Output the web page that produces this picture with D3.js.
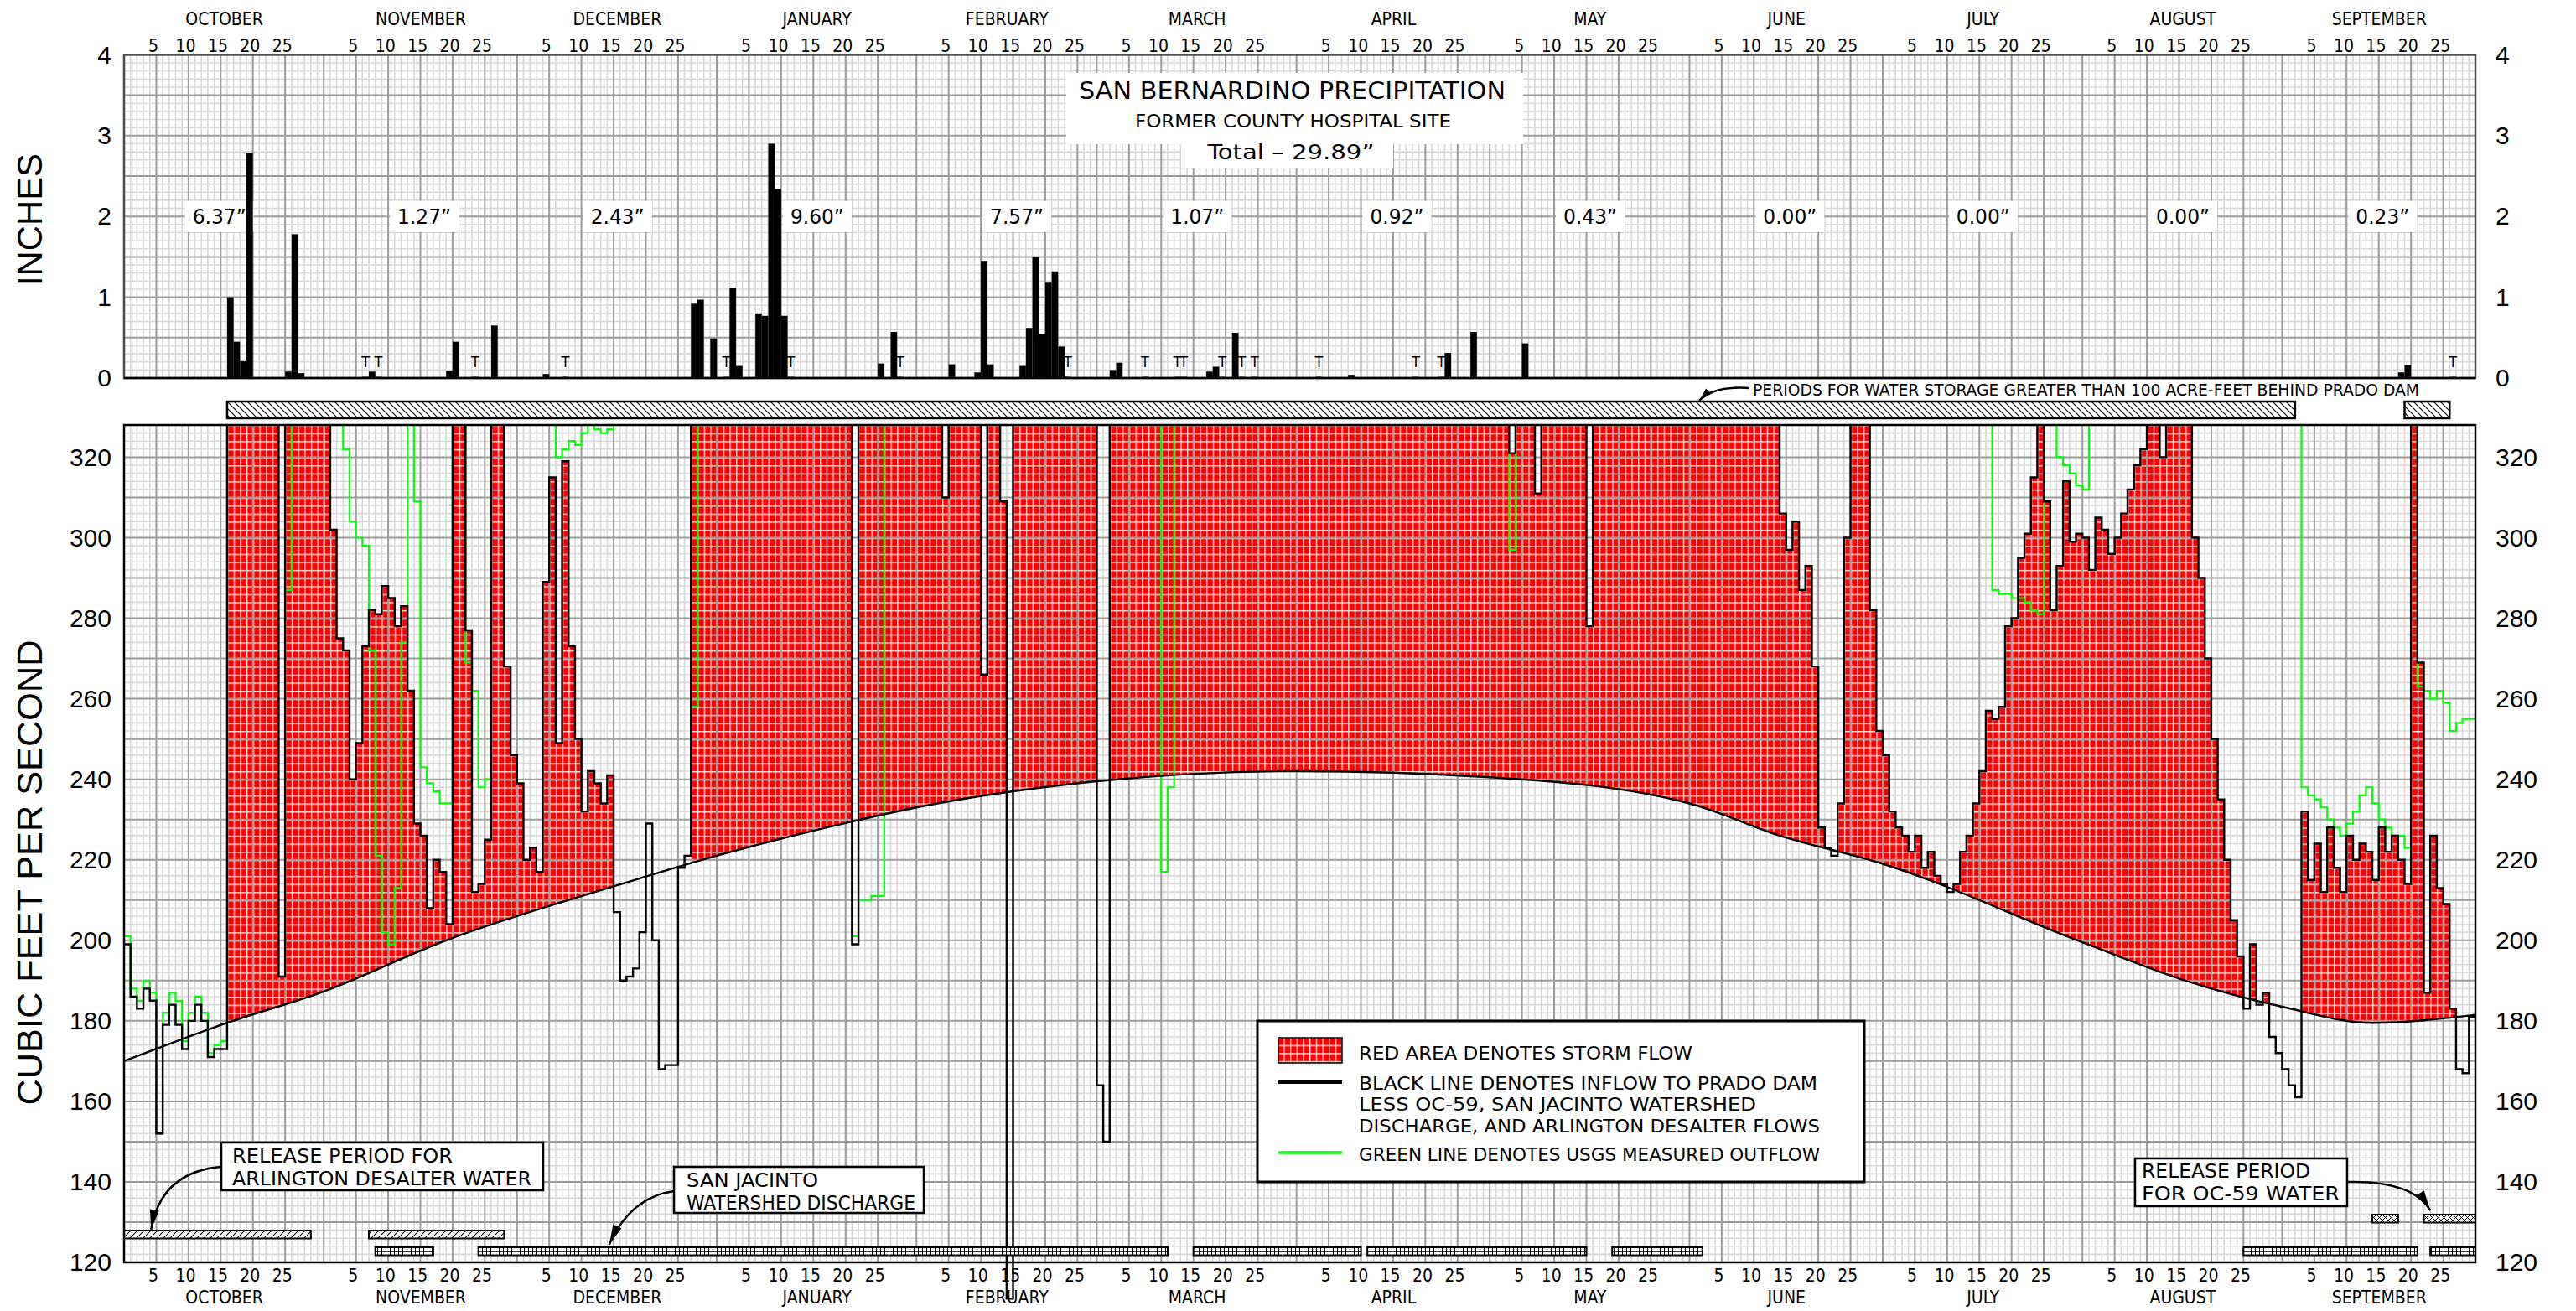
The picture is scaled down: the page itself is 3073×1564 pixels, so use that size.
<!DOCTYPE html>
<html>
<head>
<meta charset="utf-8">
<title>San Bernardino Precipitation and Prado Dam Storm Flow</title>
<script src="https://cdn.jsdelivr.net/npm/d3@7/dist/d3.min.js"></script>
<style>
  html, body { margin: 0; padding: 0; background: #fff; }
  svg { display: block; }
</style>
</head>
<body>
<svg id="chart" width="3073" height="1564"></svg>
<script>
const NARROW = '"Liberation Sans Narrow", "Arial Narrow", "DejaVu Sans Condensed", sans-serif';
const SANS = '"Liberation Sans", Arial, Helvetica, sans-serif';
const A = 400; // flow above the top of the cfs scale

// ---- calendar of the water year ----
const months = ["OCTOBER","NOVEMBER","DECEMBER","JANUARY","FEBRUARY","MARCH",
                "APRIL","MAY","JUNE","JULY","AUGUST","SEPTEMBER"];
const monthDays = [31,30,31,31,28,31,30,31,30,31,31,30];
const dayTickLabels = [5,10,15,20,25];
// monthly totals are centred this many days after the first of the month
const totalLabelOffset = [14.8,15.6,15.6,15.6,15.6,15.6,15.6,15.6,15.6,15.6,15.6,15.6];

// ---- daily precipitation [month index, day, inches] ----
const rainOct = [[0,17,1.00],[0,18,0.45],[0,19,0.21],[0,20,2.79],[0,26,0.08],[0,27,1.78],[0,28,0.06]];
const rainNov = [[1,8,0.08],[1,20,0.09],[1,21,0.45],[1,27,0.65]];
const rainDec = [[2,5,0.05],[2,28,0.92],[2,29,0.97],[2,31,0.49]];
const rainJan = [[3,3,1.12],[3,4,0.15],[3,7,0.80],[3,8,0.77],[3,9,2.90],[3,10,2.34],[3,11,0.77],[3,26,0.18],[3,28,0.57]];
const rainFeb = [[4,6,0.17],[4,10,0.07],[4,11,1.45],[4,12,0.17],[4,17,0.15],[4,18,0.62],[4,19,1.50],[4,20,0.55],[4,21,1.18],[4,22,1.32],[4,23,0.39]];
const rainMar = [[5,3,0.10],[5,4,0.19],[5,18,0.08],[5,19,0.14],[5,22,0.56]];
const rainApr = [[6,9,0.04],[6,24,0.31],[6,28,0.57]];
const rainMay = [[7,6,0.43]];
const rainSep = [[11,19,0.07],[11,20,0.16]];
// trace days [month index, day]
const traceDays = [[1,7],[1,9],[1,24],[2,8],[3,2],[3,12],[3,29],[4,24],[5,8],[5,13],[5,14],
                   [5,20],[5,23],[5,25],[6,4],[6,19],[6,23],[11,27]];

// ---- daily inflow to Prado Dam less OC-59, San Jacinto and Arlington flows (cfs) ----
const inflowOct = [199,186,183,188,185,152,179,184,179,173,180,184,180,171,173,173,A,A,A,A,A,A,A,A,191,A,A,A,A,A,A];
const inflowNov = [A,302,275,272,240,249,273,282,281,288,285,278,283,262,229,226,208,220,217,204,A,A,277,212,214,225,A,A,268,246];
const inflowDec = [239,220,223,217,289,315,249,319,273,250,232,242,239,234,241,207,190,191,193,202,229,200,168,169,169,218,221,A,A,A,A];
const inflowJan = [A,A,A,A,A,A,A,A,A,A,A,A,A,A,A,A,A,A,A,A,A,199,A,A,A,A,A,A,A,A,A];
const inflowFeb = [A,A,A,A,310,A,A,A,A,A,266,A,A,309,111,A,A,A,A,A,A,A,A,A,A,A,A,A];
const inflowMar = [164,150,A,A,A,A,A,A,A,A,A,A,A,A,A,A,A,A,A,A,A,A,A,A,A,A,A,A,A,A,A];
const inflowApr = [A,A,A,A,A,A,A,A,A,A,A,A,A,A,A,A,A,A,A,A,A,A,A,A,A,A,A,A,A,A];
const inflowMay = [A,A,A,321,A,A,A,311,A,A,A,A,A,A,A,278,A,A,A,A,A,A,A,A,A,A,A,A,A,A,A];
const inflowJun = [A,A,A,A,A,A,A,A,A,A,A,A,A,A,306,297,304,287,293,268,228,223,221,234,300,A,A,A,282,252];
const inflowJul = [246,232,228,226,222,226,218,222,216,214,212,214,222,226,234,242,257,255,258,278,280,295,301,315,A,309,282,293,314,299,301];
const inflowAug = [300,292,305,302,296,300,306,312,318,322,A,A,320,A,A,A,A,300,290,270,250,235,220,205,196,183,199,184,187,176,172];
const inflowSep = [168,164,161,232,215,224,212,228,218,212,226,220,224,222,215,228,222,226,220,214,A,269,187,226,213,209,183,168,167,181];

// ---- daily USGS measured outflow (cfs) ----
const outflowOct = [201,188,185,190,187,152,182,187,185,175,182,186,182,172,174,175,A,A,A,A,A,A,A,A,A,287,A,A,A,A,A];
const outflowNov = [A,A,A,322,304,300,298,272,221,202,199,213,274,A,309,243,239,237,234,234,A,A,269,262,238,240,A,A,A,A];
const outflowDec = [A,A,A,A,A,A,320,322,324,323,326,A,327,326,327,A,A,A,A,A,A,A,A,A,A,A,A,258,A,A,A];
const outflowJan = [A,A,A,A,A,A,A,A,A,A,A,A,A,A,A,A,A,A,A,A,A,201,210,210,211,211,A,A,A,A,A];
const outflowFeb = [A,A,A,A,A,A,A,A,A,A,A,A,A,A,A,A,A,A,A,A,A,A,A,A,A,A,A,A];
const outflowMar = [A,A,A,A,A,A,A,A,A,A,217,238,A,A,A,A,A,A,A,A,A,A,A,A,A,A,A,A,A,A,A];
const outflowApr = [A,A,A,A,A,A,A,A,A,A,A,A,A,A,A,A,A,A,A,A,A,A,A,A,A,A,A,A,A,A];
const outflowMay = [A,A,A,297,A,A,A,A,A,A,A,A,A,A,A,A,A,A,A,A,A,A,A,A,A,A,A,A,A,A,A];
const outflowJun = [A,A,A,A,A,A,A,A,A,A,A,A,A,A,A,A,A,A,A,A,A,A,A,A,A,A,A,A,A,A];
const outflowJul = [A,A,A,A,A,A,A,A,A,A,A,A,A,A,A,A,A,287,286,286,285,285,284,282,281,A,A,320,318,316,313];
const outflowAug = [312,A,A,A,A,A,A,A,A,A,A,A,A,A,A,A,A,A,A,A,A,A,A,A,A,A,A,A,A,A,A];
const outflowSep = [A,A,A,238,236,235,233,230,228,226,229,232,236,238,234,230,228,226,226,223,A,263,262,260,262,259,252,254,255,255];

// ---- base flow curve [day of water year, cfs] ----
const baseFlow = [[0,170],[16,179.5],[31,187.3],[50,200],[76,213.4],[92,221],[113,229.5],[123,233],
                  [151,239.5],[182,242],[212,240.5],[243,234],[257,226],[273,219],[304,199.5],
                  [320,190],[335,183.5],[349,179.5],[365,181.5]];

// ---- periods (first and last date, [month index, day]) ----
const stormPeriods   = [[[0,17],[2,15]], [[2,28],[11,30]]];
const storagePeriods = [[[0,17],[11,2]], [[11,20],[11,26]]];
const arlingtonRelease = [[[0,1],[0,29]], [[1,8],[1,28]]];
const sanJacintoDischarge = [[[1,9],[1,17]], [[1,25],[5,11]], [[5,16],[6,10]], [[6,12],[7,15]],
                             [[7,20],[8,2]], [[10,26],[11,21]], [[11,24],[11,30]]];
const oc59Release = [[[11,15],[11,18]], [[11,23],[11,30]]];

// ================= layout =================
const svg = d3.select("#chart");
const W = 3073, H = 1564;
const X0 = 148, X1 = 2953;

const monthStart = [];
monthDays.reduce((acc, d) => { monthStart.push(acc); return acc + d; }, 0);
const dayIdx = (m, d) => monthStart[m] + d - 1;

const x  = d3.scaleLinear().domain([0, 365]).range([X0, X1]);
const yP = d3.scaleLinear().domain([0, 4]).range([451, 65.4]);
const yQ = d3.scaleLinear().domain([120, 328]).range([1506, 507]);

const inflow  = [].concat(inflowOct, inflowNov, inflowDec, inflowJan, inflowFeb, inflowMar,
                          inflowApr, inflowMay, inflowJun, inflowJul, inflowAug, inflowSep);
const outflow = [].concat(outflowOct, outflowNov, outflowDec, outflowJan, outflowFeb, outflowMar,
                          outflowApr, outflowMay, outflowJun, outflowJul, outflowAug, outflowSep);
const rain = [].concat(rainOct, rainNov, rainDec, rainJan, rainFeb, rainMar, rainApr, rainMay, rainSep);

svg.append("rect").attr("width", W).attr("height", H).attr("fill", "#fff");
const defs = svg.append("defs");

// ---- fill patterns ----
const dayW = x(1) - x(0);
const cellH = yQ(120) - yQ(122);
const storm = defs.append("pattern").attr("id", "storm").attr("patternUnits", "userSpaceOnUse")
  .attr("x", X0).attr("y", yQ(328)).attr("width", dayW).attr("height", cellH);
storm.append("rect").attr("width", dayW).attr("height", cellH).attr("fill", "#ff0000");
storm.append("path").attr("d", `M0,0.7H${dayW}M0.7,0V${cellH}`)
  .attr("stroke", "#ffd9d9").attr("stroke-width", 1.4);

function hatch(id, w, h, d, sw) {
  const p = defs.append("pattern").attr("id", id).attr("patternUnits", "userSpaceOnUse")
    .attr("width", w).attr("height", h);
  p.append("rect").attr("width", w).attr("height", h).attr("fill", "#fff");
  p.append("path").attr("d", d).attr("stroke", "#000").attr("stroke-width", sw).attr("fill", "none");
}
hatch("hatchBack", 8, 8, "M-2,-2L10,10M-2,6L2,10M6,-2L10,2", 1.1);
hatch("hatchFwd", 8, 8, "M-2,10L10,-2M-2,2L2,-2M6,10L10,6", 1.1);
hatch("gridFill", 5, 4.8, "M0.5,0V4.8M0,0.5H5", 1);
hatch("crossFill", 7, 7, "M0,0L7,7M7,0L0,7", 1);

defs.append("clipPath").attr("id", "plotClip").append("rect")
  .attr("x", X0).attr("y", yQ(328)).attr("width", X1 - X0).attr("height", H - yQ(328));
defs.append("clipPath").attr("id", "aboveBase").append("path")
  .attr("d", d3.area().curve(d3.curveMonotoneX).x(d => x(d[0])).y0(d => yQ(d[1])).y1(0)(baseFlow));

// ---- grid helpers ----
const majorDays = new Set();
monthStart.forEach(s => [0,5,10,15,20,25].forEach(k => majorDays.add(s + k)));
majorDays.add(365);

function minorGrid(g, y, vals) {
  const [yb, yt] = y.range();
  const gg = g.append("g").attr("stroke", "#d9d9d9").attr("stroke-width", 1.6);
  d3.range(1, 365).filter(i => !majorDays.has(i)).forEach(i =>
    gg.append("line").attr("x1", x(i)).attr("x2", x(i)).attr("y1", yt).attr("y2", yb));
  vals.forEach(v => gg.append("line").attr("x1", X0).attr("x2", X1).attr("y1", y(v)).attr("y2", y(v)));
}
function majorGrid(g, y, vals) {
  const [yb, yt] = y.range();
  const gg = g.append("g").attr("stroke", "#9c9c9c").attr("stroke-width", 2);
  [...majorDays].filter(i => i > 0 && i < 365).forEach(i =>
    gg.append("line").attr("x1", x(i)).attr("x2", x(i)).attr("y1", yt).attr("y2", yb));
  vals.forEach(v => gg.append("line").attr("x1", X0).attr("x2", X1).attr("y1", y(v)).attr("y2", y(v)));
}

// ================= precipitation panel =================
const gP = svg.append("g");
minorGrid(gP, yP, d3.range(0.1, 4, 0.1).filter(v => Math.abs(v * 2 - Math.round(v * 2)) > 0.01));
majorGrid(gP, yP, [0.5,1,1.5,2,2.5,3,3.5]);

// title block
gP.append("path").attr("fill", "#fff")
  .attr("d", "M1272,87H1817V172H1662V201H1409V172H1272Z");
const title = gP.append("g").attr("font-family", NARROW).attr("text-anchor", "middle").attr("fill", "#000");
title.append("text").attr("x", 1541.5).attr("y", 118).attr("font-size", 28)
  .attr("textLength", 509).attr("lengthAdjust", "spacingAndGlyphs").text("SAN BERNARDINO PRECIPITATION");
title.append("text").attr("x", 1542.5).attr("y", 151.5).attr("font-size", 22)
  .attr("textLength", 377).attr("lengthAdjust", "spacingAndGlyphs").text("FORMER COUNTY HOSPITAL SITE");
const yearTotal = d3.sum(rain, d => d[2]);
title.append("text").attr("x", 1540).attr("y", 189.5).attr("font-size", 25)
  .attr("textLength", 199).attr("lengthAdjust", "spacingAndGlyphs")
  .text(`Total \u2013 ${yearTotal.toFixed(2)}\u201D`);

// monthly totals
months.forEach((m, mi) => {
  const tot = d3.sum(rain.filter(d => d[0] === mi), d => d[2]);
  const cx = x(monthStart[mi] + totalLabelOffset[mi]);
  gP.append("rect").attr("x", cx - 41).attr("y", yP(2) - 18.5).attr("width", 82).attr("height", 37).attr("fill", "#fff");
  gP.append("text").attr("x", cx).attr("y", yP(2)).attr("dy", "0.36em").attr("text-anchor", "middle")
    .attr("font-family", NARROW).attr("font-size", 24)
    .attr("textLength", 64).attr("lengthAdjust", "spacingAndGlyphs").text(`${tot.toFixed(2)}\u201D`);
});

// daily bars
gP.append("g").selectAll("rect").data(rain).join("rect")
  .attr("x", d => x(dayIdx(d[0], d[1])))
  .attr("width", dayW)
  .attr("y", d => yP(d[2]))
  .attr("height", d => yP(0) - yP(d[2]))
  .attr("fill", "#000");

// trace markers
const gT = gP.append("g");
traceDays.forEach(([m, d]) => {
  const i = dayIdx(m, d);
  gT.append("rect").attr("x", x(i)).attr("width", dayW).attr("y", yP(0) - 1.5).attr("height", 1.5).attr("fill", "#000");
  gT.append("text").attr("x", x(i + 0.5)).attr("y", yP(0.13)).attr("text-anchor", "middle")
    .attr("font-family", NARROW).attr("font-size", 18).text("T");
});

// frame
gP.append("rect").attr("x", X0).attr("y", yP(4)).attr("width", X1 - X0).attr("height", yP(0) - yP(4))
  .attr("fill", "none").attr("stroke", "#4a4a4a").attr("stroke-width", 2.5);
gP.append("line").attr("x1", X0).attr("x2", X1).attr("y1", yP(0)).attr("y2", yP(0))
  .attr("stroke", "#000").attr("stroke-width", 2.5);

// ================= storage bar =================
const gS = svg.append("g");
storagePeriods.forEach(([s, e]) => {
  const i0 = dayIdx(...s), i1 = dayIdx(...e) + 1;
  gS.append("rect").attr("x", x(i0)).attr("y", 479).attr("width", x(i1) - x(i0)).attr("height", 20)
    .attr("fill", "url(#hatchBack)").attr("stroke", "#000").attr("stroke-width", 2.5);
});
gS.append("text").attr("x", 2091).attr("y", 471.5).attr("font-family", NARROW).attr("font-size", 19)
  .attr("textLength", 795).attr("lengthAdjust", "spacingAndGlyphs")
  .text("PERIODS FOR WATER STORAGE GREATER THAN 100 ACRE-FEET BEHIND PRADO DAM");

function arrow(g, p0, c, p1, len, wid) {
  g.append("path").attr("d", `M${p0[0]},${p0[1]}Q${c[0]},${c[1]} ${p1[0]},${p1[1]}`)
    .attr("fill", "none").attr("stroke", "#000").attr("stroke-width", 2.5);
  const a = Math.atan2(p1[1] - c[1], p1[0] - c[0]);
  const bx = p1[0] - len * Math.cos(a), by = p1[1] - len * Math.sin(a);
  const nx = -Math.sin(a) * wid / 2, ny = Math.cos(a) * wid / 2;
  g.append("path").attr("d", `M${p1[0]},${p1[1]}L${bx + nx},${by + ny}L${bx - nx},${by - ny}Z`).attr("fill", "#000");
}
arrow(gS, [2087, 463], [2045, 460], [2027, 478], 16, 9);

// ================= flow panel =================
const gQ = svg.append("g");
const minorQ = d3.range(122, 328.5, 2).filter(v => v % 10 !== 0);
minorGrid(gQ, yQ, minorQ);

const stormSet = new Set();
stormPeriods.forEach(([s, e]) => { for (let i = dayIdx(...s); i <= dayIdx(...e); i++) stormSet.add(i); });
const steps = (arr, flag) => arr.flatMap((v, i) => [{ x: i, v, on: flag(i) }, { x: i + 1, v, on: flag(i) }]);

const plot = gQ.append("g").attr("clip-path", "url(#plotClip)");
// storm flow: between the inflow line and the base flow curve
plot.append("g").attr("clip-path", "url(#aboveBase)").append("path")
  .attr("d", d3.area().defined(d => d.on).x(d => x(d.x)).y0(yQ(120)).y1(d => yQ(d.v))(steps(inflow, i => stormSet.has(i))))
  .attr("fill", "url(#storm)");

majorGrid(gQ, yQ, d3.range(130, 321, 10));

const plotTop = gQ.append("g").attr("clip-path", "url(#plotClip)");
const stepLine = d3.line().x(d => x(d.x)).y(d => yQ(d.v));
plotTop.append("path").attr("d", stepLine(steps(outflow, () => true)))
  .attr("fill", "none").attr("stroke", "#00ff00").attr("stroke-width", 2.2);
plotTop.append("path").attr("d", stepLine(steps(inflow, () => true)))
  .attr("fill", "none").attr("stroke", "#000").attr("stroke-width", 2.4);
plotTop.append("path").attr("d", d3.line().curve(d3.curveMonotoneX).x(d => x(d[0])).y(d => yQ(d[1]))(baseFlow))
  .attr("fill", "none").attr("stroke", "#000").attr("stroke-width", 2.4);

// release / discharge period bars
function periodBars(periods, y, h, fill) {
  periods.forEach(([s, e]) => {
    const i0 = dayIdx(...s), i1 = dayIdx(...e) + 1;
    gQ.append("rect").attr("x", x(i0)).attr("y", y).attr("width", x(i1) - x(i0)).attr("height", h)
      .attr("fill", fill).attr("stroke", "#000").attr("stroke-width", 2);
  });
}
periodBars(oc59Release, 1449, 9.5, "url(#crossFill)");
periodBars(arlingtonRelease, 1468, 9.5, "url(#hatchFwd)");
periodBars(sanJacintoDischarge, 1488, 9.5, "url(#gridFill)");

// frame
gQ.append("rect").attr("x", X0).attr("y", yQ(328)).attr("width", X1 - X0).attr("height", yQ(120) - yQ(328))
  .attr("fill", "none").attr("stroke", "#000").attr("stroke-width", 2.5);

// ---- callouts ----
function callout(box, tx, lines) {
  const g = svg.append("g");
  g.append("rect").attr("x", box[0]).attr("y", box[1]).attr("width", box[2] - box[0]).attr("height", box[3] - box[1])
    .attr("fill", "#fff").attr("stroke", "#000").attr("stroke-width", 2.5);
  lines.forEach(([t, y, w]) => g.append("text").attr("x", tx).attr("y", y).attr("font-family", NARROW)
    .attr("font-size", 23).attr("textLength", w).attr("lengthAdjust", "spacingAndGlyphs").text(t));
  return g;
}
const cA = callout([264, 1363, 648, 1420], 277, [["RELEASE PERIOD FOR", 1387, 263], ["ARLINGTON DESALTER WATER", 1414, 357]]);
arrow(cA, [264, 1392], [192, 1398], [x(dayIdx(0, 5) + 0.2), 1467], 24, 11);
const cS = callout([804, 1392, 1102, 1447], 819, [["SAN JACINTO", 1416, 157], ["WATERSHED DISCHARGE", 1443, 273]]);
arrow(cS, [804, 1421], [752, 1428], [x(dayIdx(2, 15) + 0.3), 1485], 24, 11);
const cO = callout([2547, 1382, 2800, 1439], 2555, [["RELEASE PERIOD", 1405, 201], ["FOR OC-59 WATER", 1432, 236]]);
arrow(cO, [2800, 1410], [2878, 1408], [x(dayIdx(11, 24)), 1444], 24, 11);

// ---- legend ----
const gL = svg.append("g");
gL.append("rect").attr("x", 1500).attr("y", 1218).attr("width", 724).attr("height", 192)
  .attr("fill", "#fff").attr("stroke", "#000").attr("stroke-width", 3);
gL.append("rect").attr("x", 1525).attr("y", 1238).attr("width", 76).attr("height", 30)
  .attr("fill", "url(#storm)").attr("stroke", "#000").attr("stroke-width", 1.5);
gL.append("line").attr("x1", 1525).attr("x2", 1601).attr("y1", 1291).attr("y2", 1291)
  .attr("stroke", "#000").attr("stroke-width", 4);
gL.append("line").attr("x1", 1525).attr("x2", 1601).attr("y1", 1375).attr("y2", 1375)
  .attr("stroke", "#00ff00").attr("stroke-width", 3.5);
[["RED AREA DENOTES STORM FLOW", 1264, 398],
 ["BLACK LINE DENOTES INFLOW TO PRADO DAM", 1300, 547],
 ["LESS OC-59, SAN JACINTO WATERSHED", 1325, 474],
 ["DISCHARGE, AND ARLINGTON DESALTER FLOWS", 1351, 550],
 ["GREEN LINE DENOTES USGS MEASURED OUTFLOW", 1385, 550]].forEach(([t, y, w]) =>
  gL.append("text").attr("x", 1621).attr("y", y).attr("font-family", NARROW).attr("font-size", 22)
    .attr("textLength", w).attr("lengthAdjust", "spacingAndGlyphs").text(t));

// ================= axes =================
function clean(g, font, size) {
  g.attr("font-family", font).attr("font-size", size);
  g.select(".domain").remove();
  g.selectAll(".tick line").remove();
  g.selectAll("text").attr("fill", "#000");
}
svg.append("g").attr("transform", `translate(${X0},0)`)
  .call(d3.axisLeft(yP).tickValues([0,1,2,3,4]).tickFormat(d3.format("d")).tickSize(0).tickPadding(15))
  .call(g => clean(g, SANS, 30));
svg.append("g").attr("transform", `translate(${X1},0)`)
  .call(d3.axisRight(yP).tickValues([0,1,2,3,4]).tickFormat(d3.format("d")).tickSize(0).tickPadding(24))
  .call(g => clean(g, SANS, 30));
svg.append("g").attr("transform", `translate(${X0},0)`)
  .call(d3.axisLeft(yQ).tickValues(d3.range(120, 321, 20)).tickSize(0).tickPadding(15))
  .call(g => clean(g, SANS, 30));
svg.append("g").attr("transform", `translate(${X1},0)`)
  .call(d3.axisRight(yQ).tickValues(d3.range(120, 321, 20)).tickSize(0).tickPadding(24))
  .call(g => clean(g, SANS, 30));

const dayTicks = [], dayLabel = new Map();
monthStart.forEach(s => dayTickLabels.forEach(d => { const v = s + d - 0.5; dayTicks.push(v); dayLabel.set(v, d); }));
const monthMid = monthStart.map((s, i) => s + monthDays[i] / 2);
const monthLabel = new Map(monthMid.map((v, i) => [v, months[i]]));

function xAxis(gen, y, ticks, fmt) {
  svg.append("g").attr("transform", `translate(0,${y})`)
    .call(gen(x).tickValues(ticks).tickFormat(fmt).tickSize(0).tickPadding(0))
    .call(g => clean(g, NARROW, 21))
    .call(g => g.selectAll("text").attr("y", 0).attr("dy", "0.36em"));
}
xAxis(d3.axisTop, 54, dayTicks, v => dayLabel.get(v));
xAxis(d3.axisTop, 22, monthMid, v => monthLabel.get(v));
xAxis(d3.axisBottom, 1521, dayTicks, v => dayLabel.get(v));
xAxis(d3.axisBottom, 1547, monthMid, v => monthLabel.get(v));

// axis titles
svg.append("text").attr("transform", "translate(50,262) rotate(-90)").attr("text-anchor", "middle")
  .attr("font-family", SANS).attr("font-size", 42).attr("textLength", 158).attr("lengthAdjust", "spacingAndGlyphs")
  .text("INCHES");
svg.append("text").attr("transform", "translate(50,1041) rotate(-90)").attr("text-anchor", "middle")
  .attr("font-family", SANS).attr("font-size", 42).attr("textLength", 555).attr("lengthAdjust", "spacingAndGlyphs")
  .text("CUBIC FEET PER SECOND");
</script>
</body>
</html>
